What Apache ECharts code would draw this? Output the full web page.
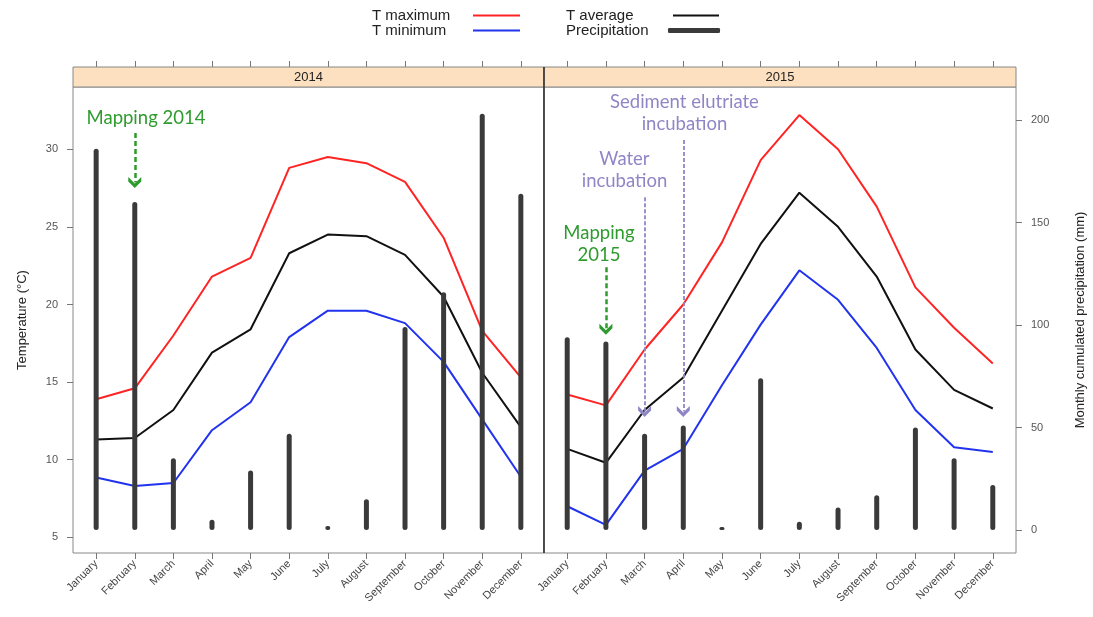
<!DOCTYPE html>
<html><head><meta charset="utf-8">
<script src="https://cdn.jsdelivr.net/npm/echarts@6/dist/echarts.min.js"></script>
<style>html,body{margin:0;padding:0;background:#fff}#c{width:1093px;height:617px}</style>
</head><body><div id="c"></div>
<script>
// ---- data ----
const months = ['January','February','March','April','May','June','July','August','September','October','November','December'];
const monthIdx = [1,2,3,4,5,6,7,8,9,10,11,12];
const panels = ['2014','2015'];
const tMax2014 = [13.9, 14.6, 18.0, 21.8, 23.0, 28.8, 29.5, 29.1, 27.9, 24.3, 18.3, 15.3];
const tAvg2014 = [11.3, 11.4, 13.2, 16.9, 18.4, 23.3, 24.5, 24.4, 23.2, 20.5, 15.6, 12.1];
const tMin2014 = [8.85, 8.3, 8.5, 11.9, 13.7, 17.9, 19.6, 19.6, 18.8, 16.3, 12.6, 8.9];
const precip2014 = [186, 160, 35, 5, 29, 47, 2, 15, 99, 116, 203, 164];
const tMax2015 = [14.2, 13.5, 17.1, 20.0, 24.0, 29.3, 32.2, 30.0, 26.3, 21.1, 18.5, 16.2];
const tAvg2015 = [10.7, 9.8, 13.2, 15.3, 19.6, 23.9, 27.2, 25.0, 21.8, 17.1, 14.5, 13.3];
const tMin2015 = [7.0, 5.8, 9.3, 10.7, 14.8, 18.7, 22.2, 20.3, 17.2, 13.2, 10.8, 10.5];
const precip2015 = [94, 92, 47, 51, 1.5, 74, 4, 11, 17, 50, 35, 22];
const tempTicks = [5, 10, 15, 20, 25, 30];
const precipTicks = [0, 50, 100, 150, 200];

// ---- layout ----
const FONT = "'Liberation Sans', Arial, sans-serif";
const ANN_FONT = "Lato, 'Open Sans', sans-serif";
const GT = 87, GH = 466;
const grids = [{left: 73, width: 471}, {left: 544, width: 472}];
const XMIN = 0.4, XMAX = 12.6;
const TMIN = 3.99, TMAX = 34.01;
const PMIN = -11.2, PMAX = 216.1;
const GREEN = '#2e9b2e', PURPLE = '#8f86c6';
const CHEVRON = 'path://M0,11 L6,4.5 L12,11 L12,6.5 L6,0 L0,6.5 Z';

const pair = arr => monthIdx.map((m, i) => [m, arr[i]]);
const tempData = [[tMax2014, tMin2014, tAvg2014], [tMax2015, tMin2015, tAvg2015]];
const precipData = [precip2014, precip2015];

const xAxes = [], yAxes = [], series = [], graphics = [];
grids.forEach((g, p) => {
  xAxes.push({
    gridIndex: p, type: 'value', min: XMIN, max: XMAX, position: 'bottom',
    axisLine: {show: false, onZero: false}, splitLine: {show: false},
    axisTick: {show: true, customValues: monthIdx, length: 6, lineStyle: {color: '#777'}},
    axisLabel: {customValues: monthIdx, formatter: v => months[Math.round(v) - 1], rotate: 45,
      fontSize: 11, color: '#444', fontFamily: FONT, margin: 9}
  });
});
grids.forEach((g, p) => {
  xAxes.push({
    gridIndex: p, type: 'value', min: XMIN, max: XMAX, position: 'top', offset: 20,
    axisLine: {show: false, onZero: false}, splitLine: {show: false},
    axisTick: {show: true, customValues: monthIdx, length: 6, lineStyle: {color: '#777'}},
    axisLabel: {show: false}
  });
});
// y axes: 0 temp p0, 1 precip p0, 2 temp p1, 3 precip p1
yAxes.push({
  gridIndex: 0, type: 'value', min: TMIN, max: TMAX, position: 'left',
  axisLine: {show: false, onZero: false}, splitLine: {show: false},
  axisTick: {show: true, customValues: tempTicks, length: 6, lineStyle: {color: '#777'}},
  axisLabel: {customValues: tempTicks, margin: 15, fontSize: 11, color: '#555', fontFamily: FONT},
  name: 'Temperature (°C)', nameLocation: 'middle', nameGap: 44, nameRotate: 90,
  nameTextStyle: {fontSize: 13, color: '#222', fontFamily: FONT}
});
yAxes.push({gridIndex: 0, type: 'value', min: PMIN, max: PMAX, position: 'right', show: false});
yAxes.push({gridIndex: 1, type: 'value', min: TMIN, max: TMAX, position: 'left', show: false});
yAxes.push({
  gridIndex: 1, type: 'value', min: PMIN, max: PMAX, position: 'right',
  axisLine: {show: false, onZero: false}, splitLine: {show: false},
  axisTick: {show: true, customValues: precipTicks, length: 6, lineStyle: {color: '#777'}},
  axisLabel: {customValues: precipTicks, margin: 15, fontSize: 11, color: '#555', fontFamily: FONT},
  name: 'Monthly cumulated precipitation (mm)', nameLocation: 'middle', nameGap: 58, nameRotate: 90,
  nameTextStyle: {fontSize: 13, color: '#222', fontFamily: FONT}
});

const lineNames = ['T maximum', 'T minimum', 'T average'];
const lineColors = ['#ff2424', '#2233ee', '#111111'];

const annLabel = (color) => ({show: true, position: 'inside', formatter: '{b}', color: color,
  fontSize: 18.5, lineHeight: 22, fontFamily: ANN_FONT, align: 'center'});
const markPts = [
  [{name: 'Mapping 2014', coord: [2.29, 32.0], label: annLabel(GREEN)}],
  [{name: 'Mapping\n2015', coord: [1.82, 23.92], label: annLabel(GREEN)},
   {name: 'Water\nincubation', coord: [2.48, 28.67], label: annLabel(PURPLE)},
   {name: 'Sediment elutriate\nincubation', coord: [4.03, 32.34], label: annLabel(PURPLE)}]
];
const greenLS = {color: GREEN, width: 2.5, type: [5, 3]};
const purpleLS = {color: PURPLE, width: 1.8, type: [4, 2]};
const markLns = [
  [[{coord: [2, 31.05], lineStyle: greenLS, itemStyle: {color: GREEN}}, {coord: [2, 27.85], itemStyle: {color: GREEN}}]],
  [[{coord: [2, 22.4], lineStyle: greenLS, itemStyle: {color: GREEN}}, {coord: [2, 18.4], itemStyle: {color: GREEN}}],
   [{coord: [3, 26.9], lineStyle: purpleLS, itemStyle: {color: PURPLE}}, {coord: [3, 13.1], itemStyle: {color: PURPLE}}],
   [{coord: [4, 30.6], lineStyle: purpleLS, itemStyle: {color: PURPLE}}, {coord: [4, 13.1], itemStyle: {color: PURPLE}}]]
];

grids.forEach((g, p) => {
  tempData[p].forEach((arr, k) => {
    const s = {
      name: lineNames[k], type: 'line', xAxisIndex: p, yAxisIndex: p * 2,
      data: pair(arr), symbol: 'none', color: lineColors[k],
      lineStyle: {width: 2, color: lineColors[k]}, z: 2, silent: true
    };
    if (k === 0) {
      s.markPoint = {symbol: 'circle', symbolSize: 0, silent: true, animation: false,
        itemStyle: {color: 'rgba(0,0,0,0)'}, data: markPts[p]};
      s.markLine = {symbol: ['none', CHEVRON], symbolSize: [13, 11], silent: true, animation: false,
        label: {show: false}, data: markLns[p]};
    }
    series.push(s);
  });
  series.push({
    name: 'Precipitation', type: 'bar', xAxisIndex: p, yAxisIndex: p * 2 + 1,
    data: pair(precipData[p]), barWidth: 5, color: '#3a3a3a',
    itemStyle: {color: '#3a3a3a', borderRadius: 2.5}, z: 3, silent: true
  });
  // strip header
  graphics.push({type: 'rect', shape: {x: g.left, y: 67, width: g.width, height: 20},
    style: {fill: '#fde0bf', stroke: '#888', lineWidth: 1}, z: 10});
  graphics.push({type: 'text', x: g.left + g.width / 2, y: 77,
    style: {text: panels[p], fill: '#222', font: '13px ' + FONT, textAlign: 'center', textVerticalAlign: 'middle'}, z: 11});
});
graphics.push({type: 'line', shape: {x1: 544, y1: 67, x2: 544, y2: 553},
  style: {stroke: '#333', lineWidth: 1.6}, z: 12});

const mkLegend = (name, left, top, h, icon, w, tw) => ({
  data: [name], left: left, top: top, align: 'right', orient: 'horizontal', padding: 0,
  itemWidth: w, itemHeight: h, icon: icon, selectedMode: false,
  formatter: n => '{a|' + n + '}',
  textStyle: {rich: {a: {width: tw, align: 'left', fontSize: 15, color: '#222', fontFamily: FONT}}}
});

const option = {
  animation: false,
  backgroundColor: '#fff',
  textStyle: {fontFamily: FONT},
  legend: [
    mkLegend('T maximum', 372, 8, 2, 'rect', 47, 96),
    mkLegend('T minimum', 372, 23, 2, 'rect', 47, 96),
    mkLegend('T average', 566, 8, 2, 'rect', 46, 102),
    mkLegend('Precipitation', 566, 23, 5, 'roundRect', 52, 97)
  ],
  grid: grids.map(g => ({left: g.left, top: GT, width: g.width, height: GH, show: true,
    borderColor: '#888', borderWidth: 1, backgroundColor: '#fff'})),
  xAxis: xAxes,
  yAxis: yAxes,
  series: series,
  graphic: graphics
};
const chart = echarts.init(document.getElementById('c'), null, {renderer: 'canvas'});
chart.setOption(option);
</script></body></html>
